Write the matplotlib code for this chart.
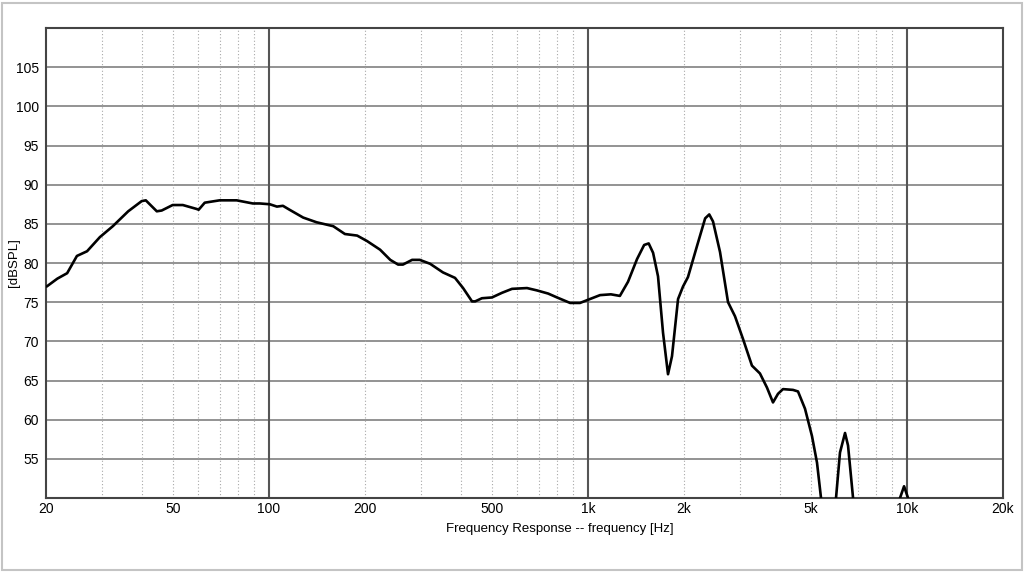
import numpy as np
import matplotlib
matplotlib.use("Agg")
import matplotlib.pyplot as plt
from matplotlib.patches import Rectangle

# frequency response (Hz, dB SPL)
freq = [20.1, 21.7, 23.3, 25.0, 26.9, 29.5, 32.4, 36.2, 39.9, 41.1, 44.5, 46.1,
        49.9, 53.7, 59.3, 60.2, 62.9, 70.0, 79.2, 89.0, 93.6, 100.6, 105.9, 110.6,
        116, 128, 141, 159, 173, 189, 203, 223, 240, 254, 263, 281, 297, 320,
        351, 383, 406, 433, 443, 465, 500, 538, 578, 644, 692, 750, 800, 879,
        944, 1000, 1091, 1180, 1259, 1335, 1425, 1500, 1550, 1600, 1658, 1719, 1782,
        1834, 1916, 1986, 2058, 2198, 2330, 2400, 2466, 2594, 2748, 2890, 3062, 3266,
        3460, 3640, 3802, 3942, 4086, 4393, 4554, 4790, 5038, 5224, 5377, 5550,
        5700, 5850, 5992, 6166, 6395, 6535, 6776, 6950, 7300, 9000, 9350, 9510,
        9792, 10078, 10250, 10500]
spl = [77.0, 78.0, 78.7, 80.9, 81.5, 83.3, 84.7, 86.6, 87.9, 88.0, 86.6, 86.7,
       87.4, 87.4, 86.9, 86.8, 87.7, 88.0, 88.0, 87.6, 87.6, 87.5, 87.2, 87.3,
       86.8, 85.8, 85.2, 84.7, 83.7, 83.5, 82.8, 81.7, 80.4, 79.8, 79.8, 80.4,
       80.4, 79.9, 78.8, 78.1, 76.8, 75.1, 75.1, 75.5, 75.6, 76.2, 76.7, 76.8,
       76.5, 76.1, 75.6, 74.9, 74.9, 75.3, 75.9, 76.0, 75.8, 77.6, 80.5, 82.3, 82.5,
       81.3, 78.3, 71.1, 65.8, 68.1, 75.4, 77.0, 78.2, 82.2, 85.7, 86.2, 85.3, 81.4,
       75.0, 73.2, 70.3, 66.9, 65.9, 64.1, 62.2, 63.3, 63.9, 63.8, 63.6, 61.4,
       57.9, 54.5, 50.0, 46.0, 42.0, 45.0, 50.0, 55.8, 58.3, 56.7, 50.0, 45.0,
       40.0, 40.0, 45.0, 50.0, 51.5, 50.0, 47.0, 42.0]

x_ticks = [20, 50, 100, 200, 500, 1000, 2000, 5000, 10000, 20000]
x_labels = ['20', '50', '100', '200', '500', '1k', '2k', '5k', '10k', '20k']
y_ticks = [55, 60, 65, 70, 75, 80, 85, 90, 95, 100, 105]
decades = [100, 1000, 10000]
minor = [30, 40, 50, 60, 70, 80, 90, 200, 300, 400, 500, 600, 700, 800, 900,
         2000, 3000, 4000, 5000, 6000, 7000, 8000, 9000]

plt.rcParams['font.family'] = ['Liberation Sans', 'DejaVu Sans']

fig = plt.figure(figsize=(10.24, 5.73), dpi=100)
ax = fig.add_axes([46 / 1024, 1 - 498 / 573, 957 / 1024, 470 / 573])

ax.set_xscale('log')
ax.set_xlim(20, 20000)
ax.set_ylim(50, 110)

for y in y_ticks:
    ax.axhline(y, color='#8a8a8a', lw=1.3, zorder=1)
for x in minor:
    ax.axvline(x, color='#a8a8a8', lw=0.8, ls=(0, (1, 2)), zorder=1)
for x in decades:
    ax.axvline(x, color='#555555', lw=1.5, zorder=1)

ax.plot(freq, spl, color='black', lw=1.9, zorder=3,
        solid_joinstyle='round', solid_capstyle='round')

ax.set_xticks(x_ticks)
ax.set_xticklabels(x_labels)
ax.xaxis.set_minor_locator(matplotlib.ticker.NullLocator())
ax.set_yticks(y_ticks)
ax.tick_params(length=0, labelsize=10, colors='black')
ax.tick_params(axis='x', pad=3)
ax.tick_params(axis='y', pad=5)
for s in ax.spines.values():
    s.set_color('#444444')
    s.set_linewidth(1.5)

ax.set_xlabel('Frequency Response -- frequency [Hz]', fontsize=9.5)
ax.xaxis.set_label_coords(0.537, -0.053)
ax.set_ylabel('[dBSPL]', fontsize=9.5)
ax.yaxis.set_label_coords(-0.027, 0.5)

fig.patches.append(Rectangle((2 / 1024, 3 / 573), 1020 / 1024, 567 / 573,
                             transform=fig.transFigure, fill=False,
                             edgecolor='#c4c4c4', lw=1.5))

fig.savefig('out.png', dpi=100)
